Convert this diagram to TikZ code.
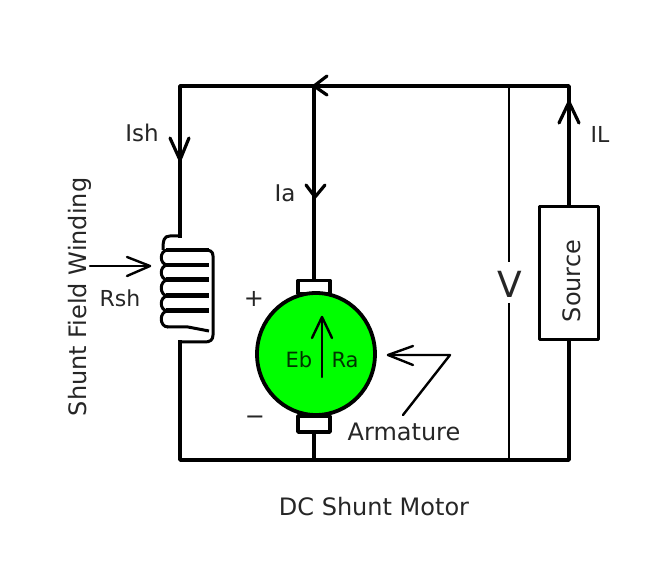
\documentclass[tikz,border=0pt]{standalone}
\usepackage{fontspec}
\setmainfont{DejaVu Sans}
\newcommand{\fsz}[1]{\fontsize{#1}{#1}\selectfont}
\begin{document}
\begin{tikzpicture}[x=1pt,y=-1pt,line join=round,
  wire/.style={line width=3.8pt,black},
  thinwire/.style={line width=2.8pt,black},
  coilline/.style={line width=3pt,black},
  head/.style={line width=3.2pt,black,line cap=round},
  fine/.style={line width=2.4pt,black,line cap=round},
  lbl/.style={inner sep=0pt,text=black!85},
  box/.style={draw=black,line width=3.4pt,fill=white,inner sep=0pt}]
\useasboundingbox (0,0) rectangle (670,580);
\fill[white] (0,0) rectangle (670,580);
% corners
\coordinate (tl) at (180,86);
\coordinate (tr) at (569,86);
\coordinate (bl) at (180,460);
\coordinate (br) at (569,460);
\coordinate (ta) at (314,86);
\coordinate (ba) at (314,460);
\coordinate (tv) at (509,86);
\coordinate (bv) at (509,460);
\coordinate (coilt) at (180,236);
\coordinate (coilb) at (180,342);
% armature
\node[box,minimum width=32pt,minimum height=13pt] (btop) at (314,287) {};
\node[box,minimum width=32pt,minimum height=16pt] (bbot) at (314,424) {};
\draw[line width=3.8pt,fill=green] (316,354) ellipse [x radius=59, y radius=61];
% source
\node[draw=black,line width=3pt,fill=white,minimum width=59pt,minimum height=133pt,inner sep=0pt] (src) at (568.5,273.5) {};
\node[lbl,rotate=90,font=\fsz{24}] (srct) at (572,281) {Source};
% wires
\draw[wire,line cap=rect] (coilt) -- (tl) -- (tr) -- (src.north -| tr);
\draw[wire,line cap=rect] (coilb) -- (bl) -- (br) -- (src.south -| br);
\draw[wire] (ta) -- (btop.north -| ta);
\draw[wire] (ba) -- (bbot.south -| ba);
\draw[thinwire] (tv) -- (509,262);
\draw[thinwire] (509,303) -- (bv);
\node[lbl,font=\fsz{36}] (vlab) at (510,284) {V};
% coil
\draw[coilline] (coilt) -- (170,236) .. controls (164,236) and (163,240) .. (163,250);
\foreach \a/\b in {250/265,265/280,280/296,296/311,311/327}{
  \draw[coilline] (168,\a) .. controls (159,\a) and (159,\b) .. (168,\b);
}
\foreach \y/\w in {250/4,265/4.8,280/5,296/5,311/5}{
  \draw[black,line width=\w pt] (166,\y) -- (209,\y);
}
\draw[coilline] (167,327) -- (188,327) -- (209,331);
\draw[coilline] (204,250) .. controls (210,250) and (213,251) .. (213,256) -- (213,335)
  .. controls (213,340) and (210,342) .. (205,342) -- (coilb);
% arrows on wires
\draw[head] (327,76) -- (ta) -- (327,95);
\draw[head] (559,123) -- (569,102) -- (579,123);
\draw[head] (306,185) -- (315,197) -- (325,185);
\draw[head] (170,138) -- (180,160) -- (189,138);
% Rsh arrow
\coordinate (ra) at (90,266);
\coordinate (rb) at (150,266);
\draw[fine] (ra) -- (rb);
\draw[fine] (127,257) -- (rb) -- (127,276);
% Eb arrow
\coordinate (ea) at (322,377);
\coordinate (eb) at (322,317);
\draw[fine] (ea) -- (eb);
\draw[fine] (312,338) -- (eb) -- (332,338);
% Armature arrow
\coordinate (ar1) at (388,355);
\coordinate (ar2) at (450,355);
\coordinate (ar3) at (403,415);
\draw[fine] (ar3) -- (ar2) -- (ar1);
\draw[fine] (413,346) -- (ar1) -- (413,365);
% labels
\node[lbl,font=\fsz{23}] (ish) at (142,133) {Ish};
\node[lbl,font=\fsz{23}] (ia) at (285,193) {Ia};
\node[lbl,font=\fsz{22}] (il) at (600,134) {IL};
\node[lbl,font=\fsz{22}] (rsh) at (120,298) {Rsh};
\node[lbl,rotate=90,font=\fsz{24}] (sfw) at (80,297) {Shunt Field Winding};
\node[lbl,font=\fsz{21},text=black!80!green] (eb2) at (299,360) {Eb};
\node[lbl,font=\fsz{21},text=black!80!green] (ra2) at (345,360) {Ra};
\node[lbl,font=\fsz{24}] (plus) at (254,299) {+};
\node[lbl,font=\fsz{24}] (minus) at (255,420) {−};
\node[lbl,font=\fsz{24}] (arm) at (404,432) {Armature};
\node[lbl,font=\fsz{24}] (title) at (374,507) {DC Shunt Motor};
\end{tikzpicture}
\end{document}
